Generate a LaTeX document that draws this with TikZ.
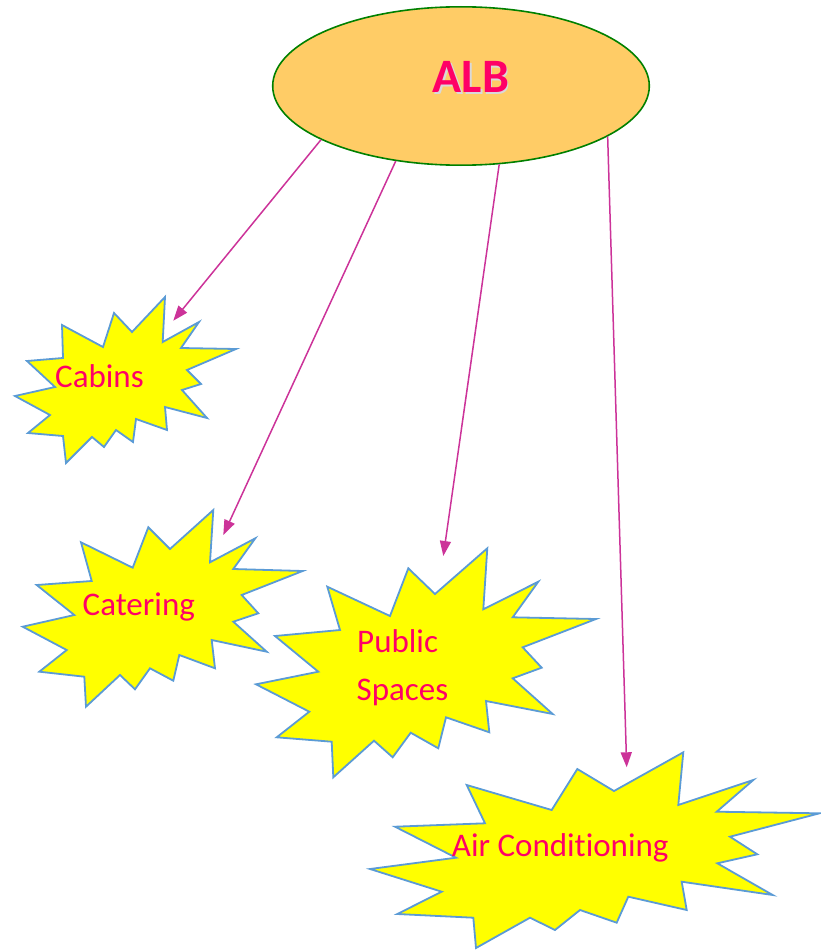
\documentclass[tikz,border=0pt]{standalone}
\usepackage{fontspec}
\setmainfont{Carlito}[Ligatures=NoCommon]
\usetikzlibrary{arrows.meta,shapes.geometric}
\definecolor{albfill}{RGB}{255,204,102}
\definecolor{albedge}{RGB}{0,128,0}
\definecolor{txtred}{RGB}{255,0,102}
\definecolor{arrowc}{RGB}{204,51,153}
\definecolor{starblue}{RGB}{91,155,213}
\definecolor{staryellow}{RGB}{255,255,0}
\begin{document}
\begin{tikzpicture}[x=1pt,y=-1pt,
  burst/.style={fill=staryellow,draw=starblue,line width=1.8pt,line join=miter,miter limit=20},
  lbl/.style={text=txtred,font=\fontsize{33}{39}\selectfont,inner sep=0pt,anchor=base west},
  conn/.style={draw=arrowc,line width=1.5pt,-{Triangle[length=15pt,width=11pt]}}]
\useasboundingbox (0,0) rectangle (821,950);

% bursts
\path[burst] (165,297) -- (162.7,342) -- (199,322) -- (181,348) -- (236,349) -- (187,370) -- (201,384) -- (182,390) -- (207,418) -- (165,407) -- (167,430) -- (136,419) -- (133,442) -- (116,430) -- (104,447) -- (92,437) -- (66,463) -- (63,436) -- (28,433) -- (50,415) -- (15,396) -- (55,387) -- (27,361) -- (63,358) -- (62,325) -- (103,347) -- (114,313) -- (132,332) -- cycle;

\path[burst] (213.3,510) -- (210,562.3) -- (255.3,538.3) -- (233.3,569) -- (302.7,571) -- (241.7,595) -- (258.3,613.3) -- (233.3,621.7) -- (266.7,651.7) -- (211.7,640) -- (215,668.3) -- (179.3,655) -- (173.3,680.7) -- (150,668.3) -- (135,689.3) -- (120,675) -- (86,706.7) -- (84.3,676.7) -- (39.3,671.7) -- (66.7,650) -- (22.7,626.7) -- (74.3,615) -- (36.7,585) -- (91.7,581) -- (81,542.3) -- (132.7,567.7) -- (148.3,527.3) -- (170,549) -- cycle;

\path[burst] (487.3,548.3) -- (483.3,609.3) -- (538.3,581.7) -- (512.7,617.3) -- (596,619) -- (522.7,647.3) -- (541.7,667.7) -- (512.7,678.3) -- (552.7,714) -- (486,701) -- (489.3,732.3) -- (446,717.3) -- (438.3,748.3) -- (410.7,732.7) -- (392.7,757.3) -- (374,740.7) -- (333.3,777.3) -- (331.7,741.7) -- (276.7,737.3) -- (309.3,711.7) -- (256,684.3) -- (318.3,671.7) -- (275,636) -- (340,630) -- (327.3,586.7) -- (390,616) -- (408.3,568.3) -- (435,594) -- cycle;

\path[burst] (683.3,752.3) -- (678.3,805) -- (753.3,780) -- (716.7,811.7) -- (819.5,813.3) -- (730,836.7) -- (757.3,854.3) -- (717.3,863.3) -- (772.7,895) -- (681.7,881.7) -- (686.7,910) -- (628.3,896.7) -- (616.7,922.7) -- (580,910) -- (555,930) -- (530,917.7) -- (476,948) -- (473.3,917.7) -- (397.3,914) -- (441.7,891.7) -- (370,869) -- (456,857.7) -- (395,826.7) -- (485,823.3) -- (466.7,785) -- (551.7,810) -- (577.3,769) -- (614,791) -- cycle;

% labels
\node[lbl] (cabins) at (55,387.3) {Cabins};
\node[lbl] (catering) at (82.5,615) {Catering};
\node[lbl] (public) at (357,652.7) {Public};
\node[lbl] (spaces) at (356.5,700) {Spaces};
\node[lbl] (aircon) at (451.7,856) {Air Conditioning};

% root
\node[ellipse,draw=albedge,fill=albfill,line width=1.6pt,minimum width=376.6pt,minimum height=158.4pt,inner sep=0pt] (alb) at (461,86) {};
\node[text=black!15,font=\fontsize{48}{56}\selectfont\bfseries,inner sep=0pt,anchor=base] (albshadow) at (472.3,94.2) {ALB};
\node[text=txtred,font=\fontsize{48}{56}\selectfont\bfseries,inner sep=0pt,anchor=base] (albtext) at (470.8,92.7) {ALB};

% arrow targets
\coordinate (tcab) at (173.3,320.7);
\coordinate (tcat) at (223.3,535);
\coordinate (tpub) at (443.3,556);
\coordinate (tair) at (626.7,767.3);

\draw[conn] (alb.201.9) -- (tcab);
\draw[conn] (alb.229) -- (tcat);
\draw[conn] (alb.296.9) -- (tpub);
\draw[conn] (alb.341.3) -- (tair);
\end{tikzpicture}
\end{document}
